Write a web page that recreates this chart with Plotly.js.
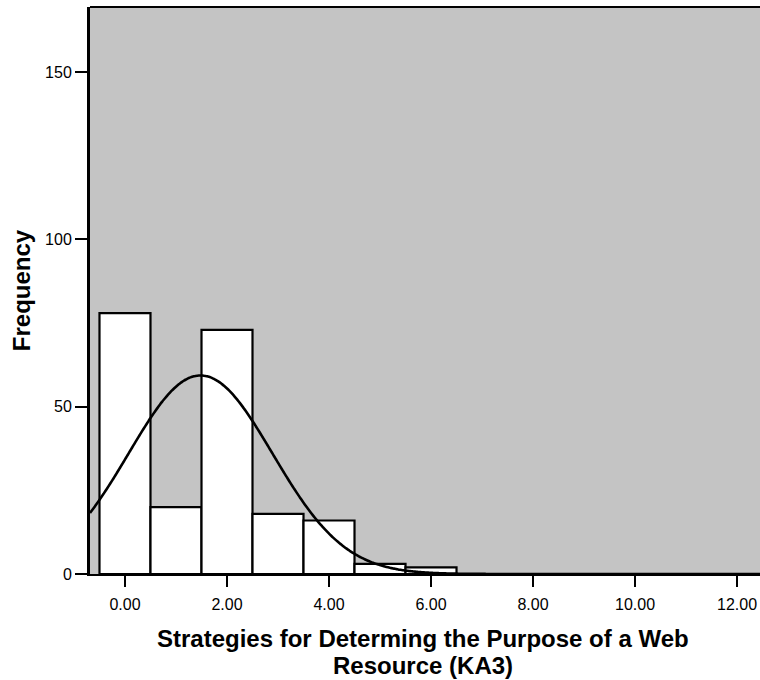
<!DOCTYPE html>
<html>
<head>
<meta charset="utf-8">
<script src="https://cdn.plot.ly/plotly-3.0.1.min.js"></script>
<style>html,body{margin:0;padding:0;background:#fff;}#chart{width:760px;height:680px;}</style>
</head>
<body>
<div id="chart"></div>
<script>
// Histogram bins (bin centres) and frequencies
const binCentres = [0, 1, 2, 3, 4, 5, 6];
const frequencies = [78, 20, 73, 18, 16, 3, 2];
const xTickValues = [0, 2, 4, 6, 8, 10, 12];
const xTickLabels = ["0.00", "2.00", "4.00", "6.00", "8.00", "10.00", "12.00"];
const yTickValues = [0, 50, 100, 150];
const xTitleLines = ["Strategies for Determing the Purpose of a Web", "Resource (KA3)"];
const yTitle = "Frequency";

// Fitted normal curve (as drawn by the statistics package) from the histogram itself
const n = frequencies.reduce((a, b) => a + b, 0);
const mean = binCentres.reduce((s, x, i) => s + x * frequencies[i], 0) / n;
const variance = binCentres.reduce((s, x, i) => s + frequencies[i] * (x - mean) ** 2, 0) / (n - 1);
const sd = Math.sqrt(variance);
const xRange = [-0.686, 12.45];
const curveX = [], curveY = [];
for (let k = 0; k <= 400; k++) {
  const x = xRange[0] + (xRange[1] - xRange[0]) * k / 400;
  curveX.push(x);
  curveY.push(n * 1 * Math.exp(-0.5 * ((x - mean) / sd) ** 2) / (sd * Math.sqrt(2 * Math.PI)));
}

const font = "Liberation Sans, Arial, sans-serif";

const traces = [
  {
    type: "bar", x: binCentres, y: frequencies, width: 1,
    marker: {color: "#ffffff", line: {color: "#000000", width: 2.2}},
    hoverinfo: "x+y", showlegend: false
  },
  {
    type: "scatter", mode: "lines", x: curveX, y: curveY,
    line: {color: "#000000", width: 2.6, shape: "spline"},
    hoverinfo: "skip", showlegend: false
  }
];

const layout = {
  width: 760, height: 680,
  margin: {l: 90, r: 0, t: 7, b: 106},
  paper_bgcolor: "#ffffff",
  plot_bgcolor: "#c4c4c4",
  bargap: 0,
  showlegend: false,
  font: {family: font, color: "#000000"},
  xaxis: {
    range: xRange, showgrid: false, zeroline: false,
    showline: true, linecolor: "#000", linewidth: 2,
    ticks: "outside", ticklen: 11, tickwidth: 2.5, tickcolor: "#000",
    tickvals: xTickValues, ticktext: xTickLabels,
    tickfont: {family: font, size: 16, color: "#000"},
    ticklabelstandoff: 4
  },
  yaxis: {
    range: [0, 169.5], showgrid: false, zeroline: false,
    showline: true, linecolor: "#000", linewidth: 3,
    ticks: "outside", ticklen: 12, tickwidth: 2, tickcolor: "#000",
    tickvals: yTickValues,
    tickfont: {family: font, size: 16, color: "#000"},
    title: {text: yTitle, font: {family: font, size: 24, color: "#000", weight: "bold"}, standoff: 8}
  },
  shapes: [
    {type: "line", xref: "paper", yref: "paper", x0: 0, x1: 1, y0: 1, y1: 1, line: {color: "#000", width: 2}}
  ],
  annotations: [
    {text: "<b>" + xTitleLines[0] + "</b>", xref: "paper", yref: "paper", x: 0.497, y: 0, yshift: -49,
     xanchor: "center", yanchor: "top", showarrow: false, font: {family: font, size: 24, color: "#000"}},
    {text: "<b>" + xTitleLines[1] + "</b>", xref: "paper", yref: "paper", x: 0.497, y: 0, yshift: -76,
     xanchor: "center", yanchor: "top", showarrow: false, font: {family: font, size: 24, color: "#000"}}
  ]
};

Plotly.newPlot("chart", traces, layout, {displayModeBar: false, staticPlot: true});
</script>
</body>
</html>
